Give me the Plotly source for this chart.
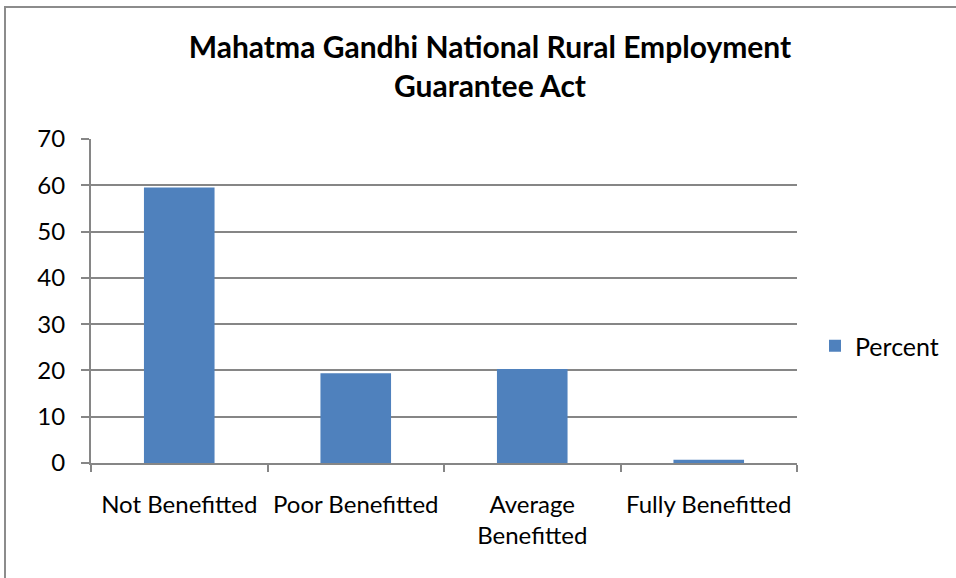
import plotly.graph_objects as go

categories = ["Not Benefitted", "Poor Benefitted", "Average<br>Benefitted", "Fully Benefitted"]
percent = [59.5, 19.4, 20.3, 0.7]
y_ticks = [0, 10, 20, 30, 40, 50, 60, 70]

W, H = 956, 578
L, R, T, B = 91, 797, 139, 463

fig = go.Figure()
fig.add_trace(go.Bar(
    x=categories, y=percent, name="Percent",
    marker=dict(color="#4F81BD", line=dict(width=0)),
    showlegend=True,
))

font = "Lato, 'Open Sans', sans-serif"
grid = "#868686"
pw, ph = R - L, B - T

fig.update_layout(
    width=W, height=H,
    margin=dict(l=L, r=W - R, t=T, b=H - B, autoexpand=False),
    paper_bgcolor="white", plot_bgcolor="white",
    bargap=0.6,
    font=dict(family=font, size=24, color="#000000"),
    title=dict(
        text="<b>Mahatma Gandhi National Rural Employment<br>Guarantee Act</b>",
        x=490 / W, xanchor="center", y=1 - 58 / H, yanchor="middle",
        font=dict(family=font, size=30, color="#000000"),
    ),
    showlegend=True,
    legend=dict(
        x=(815 - L) / pw, xanchor="left", y=(B - 346) / ph, yanchor="middle",
        font=dict(family=font, size=25, color="#000000"),
        itemwidth=30, bgcolor="rgba(0,0,0,0)",
    ),
    xaxis=dict(
        showline=True, linecolor=grid, linewidth=2,
        ticks="outside", tickson="boundaries", ticklen=7, tickcolor=grid, tickwidth=2,
        showgrid=False, tickfont=dict(family=font, size=24, color="#000000"),
        ticklabelstandoff=19, tickangle=0, automargin=False, fixedrange=True,
    ),
    yaxis=dict(
        range=[0, 70], tickvals=y_ticks, ticktext=[str(v) for v in y_ticks],
        showline=True, linecolor=grid, linewidth=2,
        ticks="outside", ticklen=8, tickcolor=grid, tickwidth=2,
        showgrid=True, gridcolor=grid, gridwidth=2, zeroline=False,
        tickfont=dict(family=font, size=24, color="#000000"),
        ticklabelstandoff=11, automargin=False,
    ),
)

fig.add_shape(
    type="rect", xref="paper", yref="paper",
    x0=(5 - L) / pw, x1=(1000 - L) / pw,
    y0=(B - 620) / ph, y1=(B - 7) / ph,
    line=dict(color="#8C8C8C", width=2), fillcolor="rgba(0,0,0,0)", layer="below",
)

fig.write_html("out.html", config={"displayModeBar": False},
               post_script="document.body.style.margin='0';")
